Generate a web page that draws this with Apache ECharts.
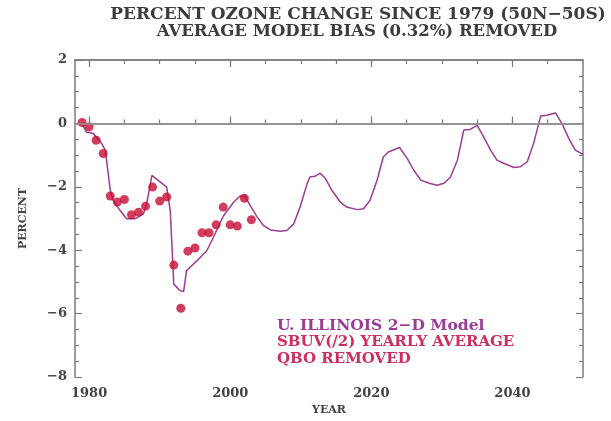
<!DOCTYPE html>
<html>
<head>
<meta charset="utf-8">
<script src="https://cdn.jsdelivr.net/npm/echarts@6/dist/echarts.min.js"></script>
<style>
html,body{margin:0;padding:0;background:#fff;}
#c{width:611px;height:421px;}
</style>
</head>
<body>
<div id="c"></div>
<script>
// ---- data ----
const titleLines = ['PERCENT OZONE CHANGE SINCE 1979 (50N\u221250S)', 'AVERAGE MODEL BIAS (0.32%) REMOVED'];
const legendLines = ['U. ILLINOIS 2\u2212D Model', 'SBUV(/2) YEARLY AVERAGE', 'QBO REMOVED'];
const xTickLabels = [1980, 2000, 2020, 2040];
const xMinorTicks = [1980, 1985, 1990, 1995, 2000, 2005, 2010, 2015, 2020, 2025, 2030, 2035, 2040, 2045];

const modelYears = [1979.0, 1979.6, 1980.6, 1981.8, 1982.3, 1983.0, 1983.4, 1984.4, 1985.3, 1986.5,
  1987.7, 1988.2, 1988.9, 1990.1, 1991.0, 1991.5, 1992.0, 1992.9, 1993.4, 1993.8,
  1994.3, 1995.3, 1996.7, 1997.6, 1999.0, 2000.5, 2001.4, 2002.1, 2002.8, 2003.8,
  2004.7, 2005.7, 2007.1, 2008.0, 2009.0, 2009.9, 2010.9, 2011.3, 2012.0, 2012.75,
  2013.5, 2014.4, 2015.6, 2016.5, 2018.0, 2018.9, 2019.8, 2020.8, 2021.7, 2022.4,
  2024.0, 2025.1, 2026.0, 2027.0, 2028.2, 2029.3, 2030.3, 2031.2, 2032.2, 2033.1,
  2034.0, 2035.0, 2035.9, 2036.9, 2037.8, 2039.0, 2040.2, 2041.1, 2042.1, 2043.0,
  2044.0, 2044.9, 2046.1, 2047.0, 2048.0, 2048.9, 2050.0];
const modelValues = [0.0, -0.27, -0.32, -0.64, -0.85, -2.11, -2.43, -2.75, -3.01, -3.01,
  -2.85, -2.48, -1.64, -1.85, -2.01, -2.75, -5.07, -5.28, -5.30, -4.65,
  -4.54, -4.33, -4.01, -3.60, -2.93, -2.48, -2.29, -2.30, -2.58, -2.95,
  -3.22, -3.36, -3.40, -3.38, -3.17, -2.64, -1.90, -1.69, -1.67, -1.57,
  -1.74, -2.11, -2.48, -2.64, -2.72, -2.69, -2.43, -1.80, -1.06, -0.90,
  -0.76, -1.11, -1.47, -1.79, -1.89, -1.95, -1.89, -1.70, -1.16, -0.21,
  -0.19, -0.06, -0.42, -0.84, -1.16, -1.28, -1.39, -1.37, -1.21, -0.63,
  0.23, 0.26, 0.33, 0.0, -0.48, -0.84, -0.98];

const obsYears = [1979, 1980, 1981, 1982, 1983, 1984, 1985, 1986, 1987, 1988, 1989, 1990, 1991,
  1992, 1993, 1994, 1995, 1996, 1997, 1998, 1999, 2000, 2001, 2002, 2003];
const obsValues = [0.03, -0.11, -0.53, -0.95, -2.29, -2.48, -2.40, -2.88, -2.80, -2.61, -2.01, -2.45, -2.32,
  -4.47, -5.83, -4.03, -3.93, -3.45, -3.45, -3.20, -2.64, -3.20, -3.24, -2.36, -3.04];

// ---- chart ----
const FONT = 'DejaVu Serif';
const AXC = '#7d7d7d';
const LBL = '#444';
const chart = echarts.init(document.getElementById('c'), null, {renderer: 'canvas'});
const gridL = 75, gridR = 28, gridT = 60, gridB = 44;

function xAxisDef(pos, major) {
  const lab = (pos === 'bottom' && major);
  return {
    type: 'value', min: 1978, max: 2050, position: pos, gridIndex: 0,
    axisLine: {show: true, lineStyle: {color: AXC, width: 1.5}},
    splitLine: {show: false},
    axisTick: {show: true, inside: true, length: major ? 7 : 4, lineStyle: {color: AXC, width: 1.2},
      customValues: major ? xTickLabels : xMinorTicks},
    axisLabel: {show: lab, customValues: major ? xTickLabels : xMinorTicks, margin: 10,
      fontFamily: FONT, fontWeight: 'bold', fontSize: 13, color: LBL, formatter: v => String(v)},
    name: lab ? 'YEAR' : '',
    nameLocation: 'middle', nameGap: 28,
    nameTextStyle: {fontFamily: FONT, fontWeight: 'bold', fontSize: 11, color: LBL}
  };
}
function yAxisDef(pos) {
  return {
    type: 'value', min: -8, max: 2, interval: 2, position: pos, gridIndex: 0,
    axisLine: {show: true, lineStyle: {color: AXC, width: 1.5}},
    splitLine: {show: false},
    axisTick: {show: true, inside: true, length: 7, lineStyle: {color: AXC, width: 1.2}},
    minorTick: {show: true, splitNumber: 4, length: 4, lineStyle: {color: AXC, width: 1.2}},
    axisLabel: pos === 'left' ? {show: true, margin: 8, fontFamily: FONT, fontWeight: 'bold', fontSize: 13, color: LBL,
      formatter: v => String(v).replace('-', '\u2212')} : {show: false},
    name: pos === 'left' ? 'PERCENT' : '',
    nameLocation: 'middle', nameGap: 46, nameRotate: 90,
    nameTextStyle: {fontFamily: FONT, fontWeight: 'bold', fontSize: 11, color: LBL}
  };
}

const option = {
  backgroundColor: '#fff',
  animation: false,
  grid: {left: gridL, right: gridR, top: gridT, bottom: gridB, containLabel: false},
  xAxis: [xAxisDef('bottom', true), xAxisDef('bottom', false), xAxisDef('top', true), xAxisDef('top', false)],
  yAxis: [yAxisDef('left'), yAxisDef('right')],
  graphic: [
    {type: 'text', x: 358, y: 6, style: {text: titleLines[0], fill: '#3c3c3c', align: 'center', verticalAlign: 'top',
      font: 'bold 17px "DejaVu Serif"'}},
    {type: 'text', x: 357, y: 23, style: {text: titleLines[1], fill: '#3c3c3c', align: 'center', verticalAlign: 'top',
      font: 'bold 16.5px "DejaVu Serif"'}},
    {type: 'text', x: 277, y: 318, style: {text: legendLines[0], fill: '#9b3d96', verticalAlign: 'top',
      font: 'bold 15.5px "DejaVu Serif"'}},
    {type: 'text', x: 277, y: 335, style: {text: legendLines[1], fill: '#cf2d60', verticalAlign: 'top',
      font: 'bold 15px "DejaVu Serif"'}},
    {type: 'text', x: 277, y: 352, style: {text: legendLines[2], fill: '#cf2d60', verticalAlign: 'top',
      font: 'bold 15px "DejaVu Serif"'}}
  ],
  series: [
    {
      type: 'line', xAxisIndex: 0, yAxisIndex: 0,
      data: modelYears.map((y, i) => [y, modelValues[i]]),
      showSymbol: false, symbol: 'none',
      lineStyle: {color: '#9a3d90', width: 1.5},
      z: 3,
      markLine: {silent: true, symbol: 'none', label: {show: false},
        lineStyle: {color: '#9a9a9a', width: 1.5, type: 'solid'},
        data: [{yAxis: 0}]}
    },
    {
      type: 'scatter', xAxisIndex: 0, yAxisIndex: 0,
      data: obsYears.map((y, i) => [y, obsValues[i]]),
      symbol: 'circle', symbolSize: 9,
      itemStyle: {color: '#c80c34'},
      z: 4
    }
  ]
};
chart.setOption(option);
</script>
</body>
</html>
